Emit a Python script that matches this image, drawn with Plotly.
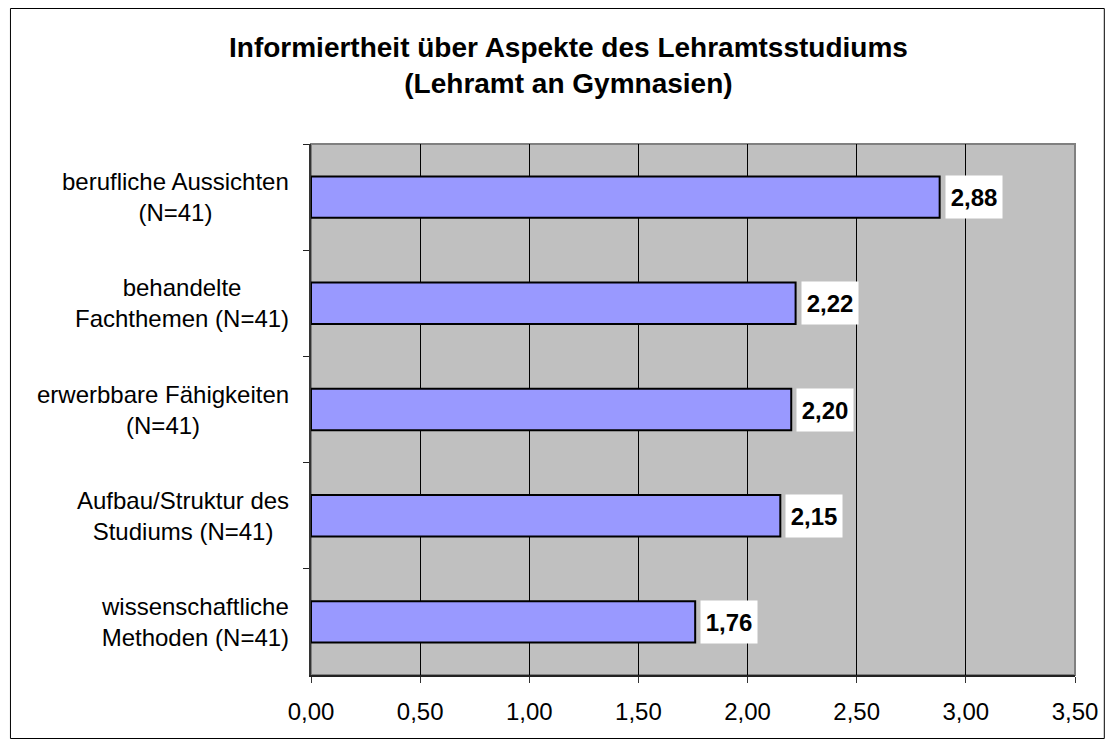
import plotly.graph_objects as go

# Daten
kategorien = ["berufliche Aussichten<br>(N=41)",
              "behandelte<br>Fachthemen (N=41)",
              "erwerbbare Fähigkeiten<br>(N=41)",
              "Aufbau/Struktur des<br>Studiums (N=41)",
              "wissenschaftliche<br>Methoden (N=41)"]
werte = [2.88, 2.22, 2.20, 2.15, 1.76]
x_ticks = [0, 0.5, 1.0, 1.5, 2.0, 2.5, 3.0, 3.5]

FONT = "Arial, Liberation Sans, sans-serif"

fig = go.Figure()
fig.add_trace(go.Bar(
    y=kategorien,
    x=werte,
    orientation="h",
    width=0.39,
    marker=dict(color="#9999FF", line=dict(color="black", width=2)),
    showlegend=False,
    hoverinfo="skip",
))

annotations = []
# Kategoriebeschriftungen (rechtsbündiger Block, Zeilen zentriert)
for kat in kategorien:
    annotations.append(dict(
        x=0, xref="paper", y=kat, yref="y", xanchor="right", yanchor="middle",
        xshift=-20, align="center", text=kat, showarrow=False,
        font=dict(family=FONT, size=24, color="black")))

# Datenbeschriftungen mit weißem Hintergrund
for kat, w in zip(kategorien, werte):
    annotations.append(dict(
        x=w, y=kat, xref="x", yref="y", xanchor="left", xshift=5,
        text="<b>" + f"{w:.2f}".replace(".", ",") + "</b>",
        showarrow=False, bgcolor="white", width=54, height=40, borderpad=1,
        font=dict(family=FONT, size=24, color="black")))

# Titel
annotations.append(dict(
    x=0.3368, xref="paper", y=1.148, yref="paper", xanchor="center", yanchor="middle",
    text="<b>Informiertheit über Aspekte des Lehramtsstudiums<br>(Lehramt an Gymnasien)</b>",
    showarrow=False, align="center", font=dict(family=FONT, size=28, color="black")))

fig.update_layout(
    width=1102, height=731,
    margin=dict(l=303, r=30, t=136, b=64),
    paper_bgcolor="white",
    plot_bgcolor="#C0C0C0",
    separators=",.",
    bargap=0.6,
    annotations=annotations,
    shapes=[
        dict(type="rect", xref="paper", yref="paper", x0=0, x1=1, y0=0, y1=1,
             line=dict(color="#808080", width=2), layer="below"),
        dict(type="rect", xref="paper", yref="paper",
             x0=-302.5 / 769, x1=1 + 29.5 / 769, y0=-63.5 / 531, y1=1 + 135.5 / 531,
             line=dict(color="black", width=1)),
    ],
)

fig.update_xaxes(
    range=[0, 3.5], tickvals=x_ticks, tickformat=".2f",
    showgrid=True, gridcolor="black", gridwidth=1,
    ticks="outside", ticklen=6, tickcolor="#333333",
    showline=True, linecolor="#222222", linewidth=2,
    tickfont=dict(family=FONT, size=24, color="black"),
    ticklabelstandoff=8,
    zeroline=False, fixedrange=True,
)
fig.update_yaxes(
    autorange="reversed", showticklabels=False,
    tickson="boundaries", ticks="outside", ticklen=6, tickcolor="#222222",
    showgrid=False, showline=True, linecolor="#333333", linewidth=2,
    fixedrange=True,
)

fig.write_html("out.html")
